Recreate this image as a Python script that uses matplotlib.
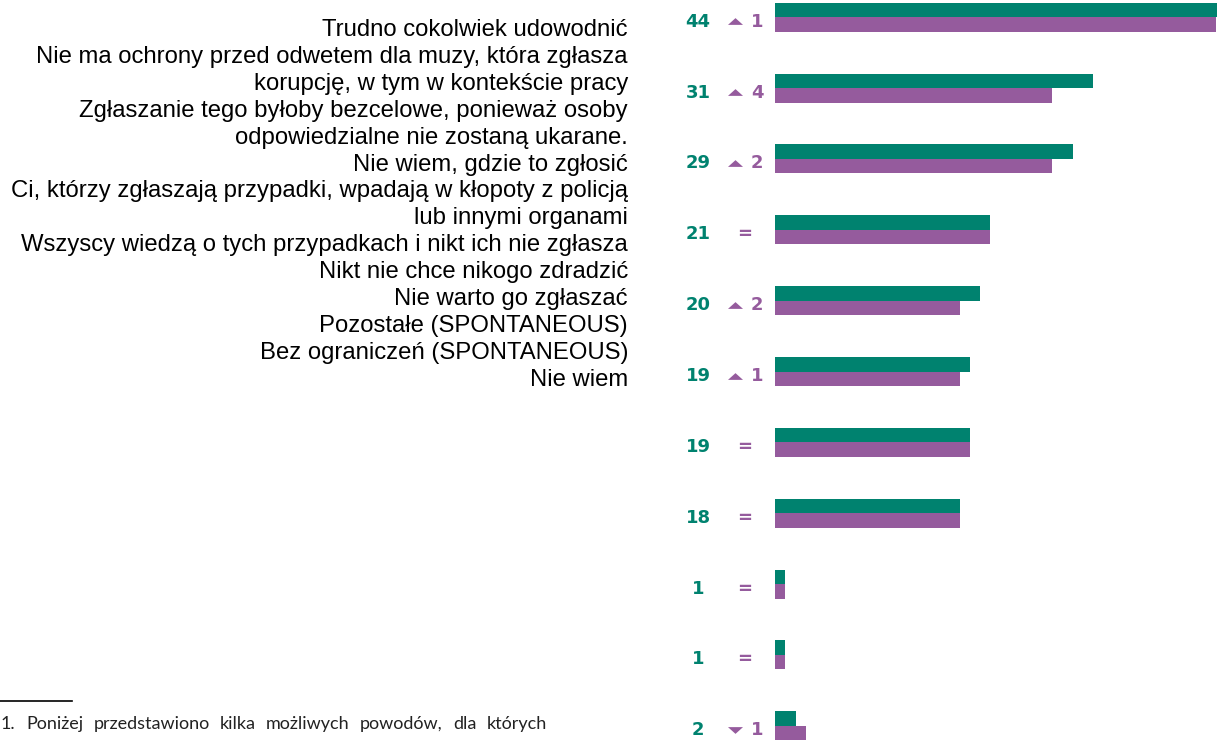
import matplotlib.pyplot as plt
import matplotlib.lines as mlines

# reasons, current wave vs previous wave (%)
labels = [
    "Trudno cokolwiek udowodnić",
    "Nie ma ochrony przed odwetem dla muzy, która zgłasza\nkorupcję, w tym w kontekście pracy",
    "Zgłaszanie tego byłoby bezcelowe, ponieważ osoby\nodpowiedzialne nie zostaną ukarane.",
    "Nie wiem, gdzie to zgłosić",
    "Ci, którzy zgłaszają przypadki, wpadają w kłopoty z policją\nlub innymi organami",
    "Wszyscy wiedzą o tych przypadkach i nikt ich nie zgłasza",
    "Nikt nie chce nikogo zdradzić",
    "Nie warto go zgłaszać",
    "Pozostałe (SPONTANEOUS)",
    "Bez ograniczeń (SPONTANEOUS)",
    "Nie wiem",
]
current = [44, 31, 29, 21, 20, 19, 19, 18, 1, 1, 2]
previous = [43, 27, 27, 21, 18, 18, 19, 18, 1, 1, 3]
changes = ["▲1", "▲4", "▲2", "=", "▲2", "▲1", "=", "=", "=", "=", "▼1"]
footnote = "1. Poniżej przedstawiono kilka możliwych powodów, dla których"

green = "#00826F"
purple = "#955B9D"

W, H = 1217, 740
fig = plt.figure(figsize=(W / 100, H / 100), dpi=100)

# bar panel on the right
x0 = 775
ax = fig.add_axes([x0 / W, 0, (W - x0) / W, 1])
px_per_unit = 10.26
row = 70.84
bh = 14.5 / row
ax.set_xlim(0, (W - x0) / px_per_unit)
ax.set_ylim((H - 17.3) / row, -17.3 / row)
ax.axis("off")

ys = list(range(len(current)))
ax.barh([y - bh / 2 for y in ys], current, height=bh, color=green, align="center")
ax.barh([y + bh / 2 for y in ys], previous, height=bh, color=purple, align="center")

def dx(px):
    return (px - x0) / px_per_unit

up = [(-1, -0.45), (1, -0.45), (0, 0.45)]
down = [(-1, 0.45), (1, 0.45), (0, -0.45)]

for y, val, ch in zip(ys, current, changes):
    ty = y + 4.5 / row
    ax.text(dx(698), ty, str(val), color=green, fontsize=13, fontweight="bold",
            ha="center", va="center", family="DejaVu Sans", clip_on=False)
    if ch == "=":
        ax.text(dx(745), ty, "=", color=purple, fontsize=13, fontweight="bold",
                ha="center", va="center", family="DejaVu Sans", clip_on=False)
    else:
        mk = up if ch[0] == "▲" else down
        ax.plot([dx(734.5)], [ty - 0.5 / row], marker=mk, markersize=10.8,
                color=purple, markeredgewidth=0, clip_on=False)
        ax.text(dx(757), ty, ch[1:], color=purple, fontsize=13, fontweight="bold",
                ha="center", va="center", family="DejaVu Sans", clip_on=False)

# category list, right-aligned block
lines = "\n".join(labels).split("\n")
for i, line in enumerate(lines):
    fig.text(628 / W, 1 - (36 + 26.9 * i) / H, line, ha="right", va="baseline",
             fontsize=17.2, family="Liberation Sans", color="black")

# footnote rule and justified first line
fig.add_artist(mlines.Line2D([0, 72 / W], [1 - 700.7 / H] * 2, color="black", lw=1.2))
words = footnote.split()
fig.canvas.draw()
renderer = fig.canvas.get_renderer()
texts = [fig.text(0, 1 - 729 / H, w, ha="left", va="baseline", fontsize=13,
                  family="Lato", color="#222222") for w in words]
widths = [t.get_window_extent(renderer).width for t in texts]
left, right = 1, 547
gap = (right - left - sum(widths)) / (len(words) - 1)
xpos = left
for t, w in zip(texts, widths):
    t.set_x(xpos / W)
    xpos += w + gap

fig.savefig("out.png", dpi=100)
